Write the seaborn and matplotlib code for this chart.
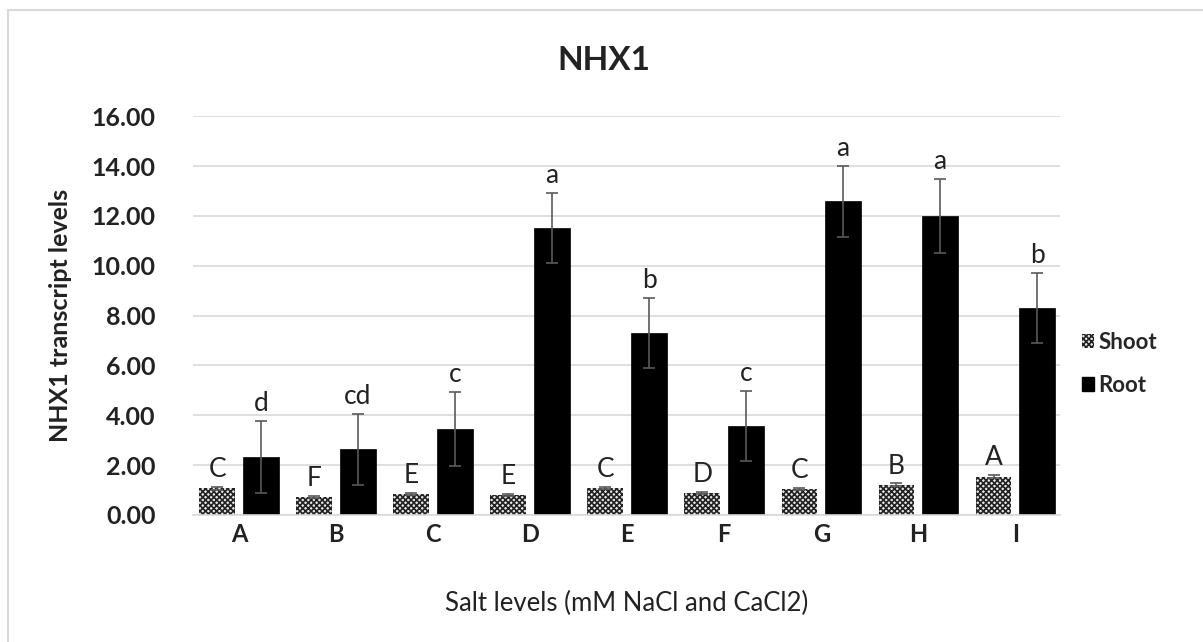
import numpy as np
import pandas as pd
import seaborn as sns
import matplotlib
matplotlib.use("Agg")
import matplotlib.pyplot as plt
from matplotlib.patches import Rectangle, Patch

categories = ["A", "B", "C", "D", "E", "F", "G", "H", "I"]
shoot = [1.06, 0.71, 0.82, 0.81, 1.07, 0.87, 1.03, 1.21, 1.54]
shoot_err = [0.05, 0.04, 0.04, 0.04, 0.05, 0.04, 0.05, 0.05, 0.06]
root = [2.32, 2.63, 3.46, 11.51, 7.31, 3.57, 12.58, 11.99, 8.31]
root_err = [1.45, 1.42, 1.48, 1.40, 1.40, 1.40, 1.41, 1.48, 1.40]
shoot_letters = ["C", "F", "E", "E", "C", "D", "C", "B", "A"]
root_letters = ["d", "cd", "c", "a", "b", "c", "a", "a", "b"]

df = pd.DataFrame({
    "cat": categories * 2,
    "val": shoot + root,
    "tissue": ["Shoot"] * len(categories) + ["Root"] * len(categories),
})

sns.set_theme(style="white")
plt.rcParams["font.family"] = ["Lato", "DejaVu Sans"]
plt.rcParams["hatch.linewidth"] = 1.2

fig = plt.figure(figsize=(12.03, 6.42), dpi=100)
ax = fig.add_axes([193 / 1203, 0.198, 867 / 1203, 0.621])

sns.barplot(data=df, x="cat", y="val", hue="tissue", order=categories,
            hue_order=["Shoot", "Root"], palette=["white", "black"],
            width=0.9, gap=0.18, errorbar=None, ax=ax, legend=False,
            edgecolor="black", linewidth=0.5)

shoot_patches = ax.containers[0]
root_patches = ax.containers[1]
for p in shoot_patches:
    p.set_hatch("xxxxxx")
    p.set_edgecolor("#222222")
    p.set_facecolor("#e8e8e8")
    p.set_linewidth(0)

for cont, vals, errs, letters in [(shoot_patches, shoot, shoot_err, shoot_letters),
                                  (root_patches, root, root_err, root_letters)]:
    xs = [p.get_x() + p.get_width() / 2 for p in cont]
    ax.errorbar(xs, vals, yerr=errs, fmt="none", ecolor="#5a5a5a",
                elinewidth=1.2, capsize=4.5, capthick=1.2, zorder=3)
    for x, v, e, l in zip(xs, vals, errs, letters):
        ax.text(x, v + e + 0.2, l, ha="center", va="bottom", fontsize=19,
                color="#222222")

ax.set_ylim(0, 16)
ticks = np.arange(0, 16.01, 2)
ax.set_yticks(ticks)
ax.set_yticklabels([f"{t:.2f}" for t in ticks],
                   fontsize=18, fontweight="bold", color="#222222")
ax.set_xticks(range(len(categories)))
ax.set_xticklabels(categories, fontsize=17, fontweight="bold", color="#222222")
ax.tick_params(axis="x", length=0, pad=6)
ax.tick_params(axis="y", length=0, pad=27)
ax.grid(axis="y", color="#d9d9d9", linewidth=1.2)
ax.set_axisbelow(True)
for s in ["top", "right", "left"]:
    ax.spines[s].set_visible(False)
ax.spines["bottom"].set_color("#d9d9d9")
ax.spines["bottom"].set_linewidth(1.2)
ax.set_xlim(-0.474, 8.46)

ax.set_xlabel("Salt levels (mM NaCl and CaCl2)", fontsize=18.5, color="#222222",
              labelpad=8)
ax.set_ylabel("NHX1 transcript levels", fontsize=18, fontweight="bold",
              color="#222222")
ax.yaxis.set_label_coords((61 - 193) / 867, 0.5)
ax.xaxis.set_label_coords(0.5, (515 - 604) / 399)
ax.xaxis.label.set_va("center")
ax.yaxis.label.set_va("center")
fig.text(604 / 1203, 1 - 60 / 642, "NHX1", ha="center", va="center",
         fontsize=24, fontweight="bold", color="#222222")

handles = [Patch(facecolor="#e8e8e8", edgecolor="#222222", hatch="xxxxxx", linewidth=0),
           Patch(facecolor="black", edgecolor="black")]
fig.legend(handles, ["Shoot", "Root"], loc="center left",
           bbox_to_anchor=(1062 / 1203, 1 - 364 / 642), frameon=False,
           prop={"weight": "bold", "size": 16}, handlelength=0.55,
           handleheight=0.6, handletextpad=0.2, labelspacing=1.0)

fig.patches.append(Rectangle((8 / 1203, -0.05), 1.2, 1 - 10 / 642 + 0.05,
                             transform=fig.transFigure, fill=False,
                             edgecolor="#d9d9d9", linewidth=1.5))

fig.savefig("out.png", dpi=100, facecolor="white")
